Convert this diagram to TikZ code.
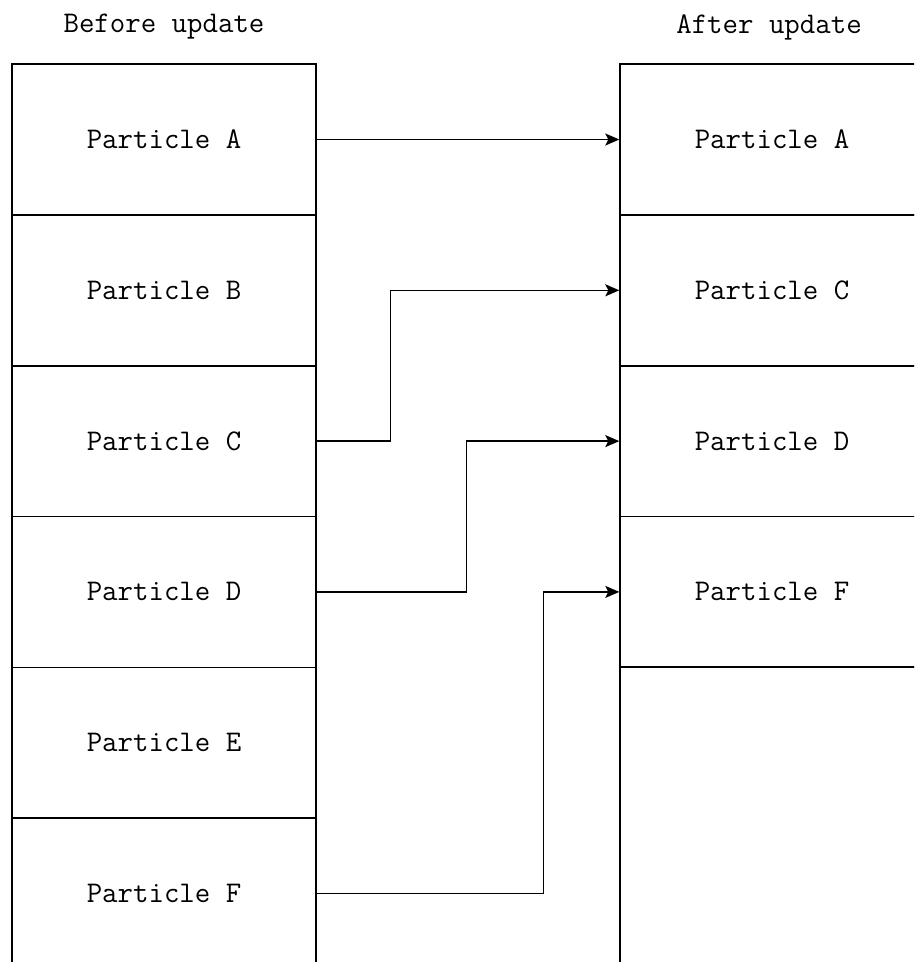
\documentclass[tikz,border=0pt]{standalone}
\usetikzlibrary{arrows.meta}
\begin{document}
\begin{tikzpicture}[x=1pt,y=-1pt,
  cell/.style={draw,line width=1.4pt,minimum width=304pt,minimum height=151pt,inner sep=0pt,
    font=\ttfamily\fontsize{30}{34}\selectfont},
  hdr/.style={font=\ttfamily\fontsize{30}{34}\selectfont,inner sep=0pt},
  arr/.style={line width=1.4pt,-{Stealth[length=14pt,width=12pt,inset=3pt]}}]
\useasboundingbox (0,0) rectangle (914,962);
\clip (0,0) rectangle (914,962);
\node[hdr] (hb) at (164,27) {Before update};
\node[hdr] (ha) at (769,27) {After update};
\node[cell] (lA) at (164,139.5) {Particle A};
\node[cell] (lB) at (164,290.3) {Particle B};
\node[cell] (lC) at (164,441.1) {Particle C};
\node[cell] (lD) at (164,591.9) {Particle D};
\node[cell] (lE) at (164,742.7) {Particle E};
\node[cell] (lF) at (164,893.5) {Particle F};
\node[cell] (rA) at (772,139.5) {Particle A};
\node[cell] (rC) at (772,290.3) {Particle C};
\node[cell] (rD) at (772,441.1) {Particle D};
\node[cell] (rF) at (772,591.9) {Particle F};
\node[cell,minimum height=320pt] (rX) at (772,827) {};
\draw[arr] (lA.east) -- (rA.west);
\draw[arr] (lC.east) -- ++(74,0) |- (rC.west);
\draw[arr] (lD.east) -- ++(150,0) |- (rD.west);
\draw[arr] (lF.east) -- ++(227,0) |- (rF.west);
\end{tikzpicture}
\end{document}
